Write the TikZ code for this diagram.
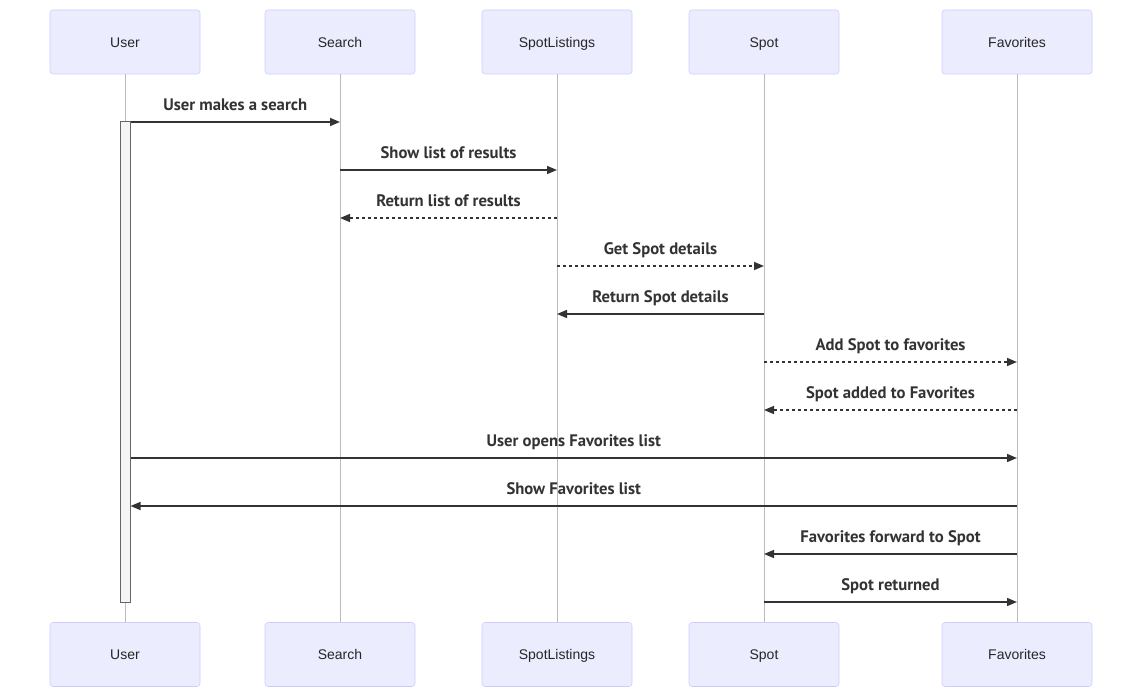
\documentclass[tikz,border=0pt]{standalone}
\usepackage{fontspec}
\setmainfont{Liberation Sans}
\newfontfamily\msgfont{PT Sans}
\usetikzlibrary{arrows.meta}
\definecolor{actorfill}{HTML}{ECECFF}
\definecolor{actorline}{HTML}{CCCCFF}
\definecolor{lifeline}{HTML}{BBBBBB}
\definecolor{msgcol}{HTML}{333333}
\tikzset{
  actor/.style={draw=actorline, fill=actorfill, rounded corners=2.25pt, minimum width=112.5pt, minimum height=48pt, font=\fontsize{10.5}{12}\selectfont, text=black!85, text height=10pt, text depth=2.2pt},
  life/.style={draw=lifeline, line width=0.75pt},
  activebar/.style={draw=black!60, fill=black!4, line width=0.75pt, minimum width=7.5pt, minimum height=360pt, inner sep=0pt},
  msg/.style={draw=msgcol, line width=1.1pt, -{Triangle[length=7.5pt,width=6pt]}},
  reply/.style={msg, dash pattern=on 2.25pt off 2.25pt},
  msglabel/.style={font=\msgfont\bfseries\fontsize{12.5}{14}\selectfont, text=msgcol, text height=9pt, text depth=2.6pt, above=2pt}
}
\begin{document}
\begin{tikzpicture}[x=0.75pt,y=-0.75pt]
  \useasboundingbox (0,0) rectangle (1142,688);
  % actors, top and bottom
  \foreach \name/\label/\x in {user/User/125,search/Search/340,listings/SpotListings/557,spot/Spot/764,fav/Favorites/1017} {
    \node[actor] (\name Top) at (\x,42) {\label};
    \node[actor] (\name Bot) at (\x,654.5) {\label};
    \draw[life] (\name Top.south) -- (\name Bot.north);
  }
  % activation of User
  \node[activebar] (userAct) at (125,362) {};
  \draw[msg] (userAct.east |- 0,122) -- node[msglabel]{User makes a search} (searchTop.south |- 0,122);
  \draw[msg] (searchTop.south |- 0,170) -- node[msglabel]{Show list of results} (listingsTop.south |- 0,170);
  \draw[reply] (listingsTop.south |- 0,218) -- node[msglabel]{Return list of results} (searchTop.south |- 0,218);
  \draw[reply] (listingsTop.south |- 0,266) -- node[msglabel]{Get Spot details} (spotTop.south |- 0,266);
  \draw[msg] (spotTop.south |- 0,314) -- node[msglabel]{Return Spot details} (listingsTop.south |- 0,314);
  \draw[reply] (spotTop.south |- 0,362) -- node[msglabel]{Add Spot to favorites} (favTop.south |- 0,362);
  \draw[reply] (favTop.south |- 0,410) -- node[msglabel]{Spot added to Favorites} (spotTop.south |- 0,410);
  \draw[msg] (userAct.east |- 0,458) -- node[msglabel]{User opens Favorites list} (favTop.south |- 0,458);
  \draw[msg] (favTop.south |- 0,506) -- node[msglabel]{Show Favorites list} (userAct.east |- 0,506);
  \draw[msg] (favTop.south |- 0,554) -- node[msglabel]{Favorites forward to Spot} (spotTop.south |- 0,554);
  \draw[msg] (spotTop.south |- 0,602) -- node[msglabel]{Spot returned} (favTop.south |- 0,602);
\end{tikzpicture}
\end{document}
